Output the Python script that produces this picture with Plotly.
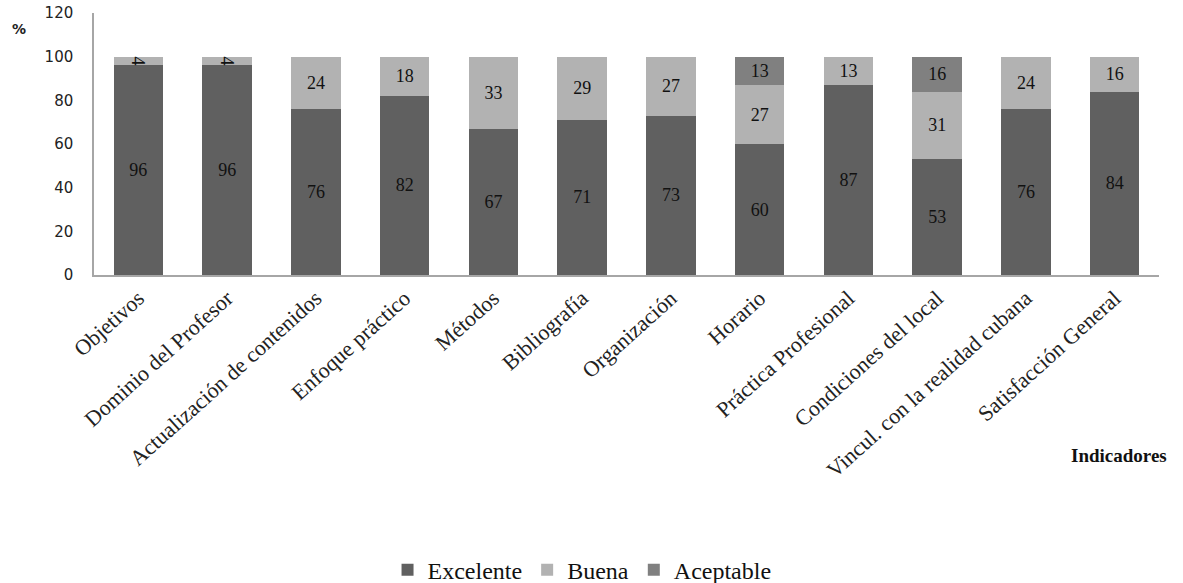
import plotly.graph_objects as go

categories = ["Objetivos", "Dominio del Profesor", "Actualización de contenidos", "Enfoque práctico",
              "Métodos", "Bibliografía", "Organización", "Horario", "Práctica Profesional",
              "Condiciones del local", "Vincul. con la realidad cubana", "Satisfacción General"]
excelente = [96, 96, 76, 82, 67, 71, 73, 60, 87, 53, 76, 84]
buena = [4, 4, 24, 18, 33, 29, 27, 27, 13, 31, 24, 16]
aceptable = [None, None, None, None, None, None, None, 13, None, 16, None, None]

series = [("Excelente", excelente, "#606060"),
          ("Buena", buena, "#b2b2b2"),
          ("Aceptable", aceptable, "#808080")]

serif = "Liberation Serif, Times New Roman, serif"
sans = "DejaVu Sans, Verdana, sans-serif"

fig = go.Figure()
for name, vals, color in series:
    fig.add_trace(go.Bar(
        name=name, x=categories, y=vals,
        marker=dict(color=color, line=dict(width=0)),
        text=[("" if v is None else str(v)) for v in vals],
        textposition="inside", insidetextanchor="middle",
        constraintext="none", cliponaxis=False,
        textfont=dict(family=serif, size=18, color="#111111"),
        hoverinfo="skip",
    ))

fig.update_layout(
    barmode="stack", bargap=0.44,
    width=1183, height=583,
    margin=dict(l=94, r=24, t=13, b=308, autoexpand=False),
    plot_bgcolor="white", paper_bgcolor="white",
    showlegend=True,
    legend=dict(orientation="h", x=0.492, xanchor="center", xref="container",
                y=0.022, yanchor="middle", yref="container",
                font=dict(family=serif, size=24, color="#111111"),
                itemwidth=30, traceorder="normal"),
    xaxis=dict(showline=True, linecolor="#a6a6a6", linewidth=1.5, ticks="",
               tickangle=-42, tickfont=dict(family=serif, size=22, color="#222222"),
               showgrid=False, automargin=False),
    yaxis=dict(range=[0, 120], dtick=20, showline=True, linecolor="#a6a6a6", linewidth=1.5,
               ticks="", showgrid=False, zeroline=False, automargin=False,
               ticklabeloverflow="allow", ticklabelstandoff=16,
               tickfont=dict(family=sans, size=15, color="#222222")),
    annotations=[
        dict(text="<b>%</b>", xref="paper", yref="paper", x=-0.07, y=0.94, showarrow=False,
             font=dict(family=sans, size=14, color="#222222"),
             xanchor="center", yanchor="middle"),
        dict(text="<b>Indicadores</b>", xref="paper", yref="paper", x=0.962, y=-0.69,
             showarrow=False, font=dict(family=serif, size=19, color="#111111"),
             xanchor="center", yanchor="middle"),
    ],
)

fig.write_html("out.html",
               config={"displayModeBar": False},
               post_script="document.body.style.margin='0';document.body.style.padding='0';")
